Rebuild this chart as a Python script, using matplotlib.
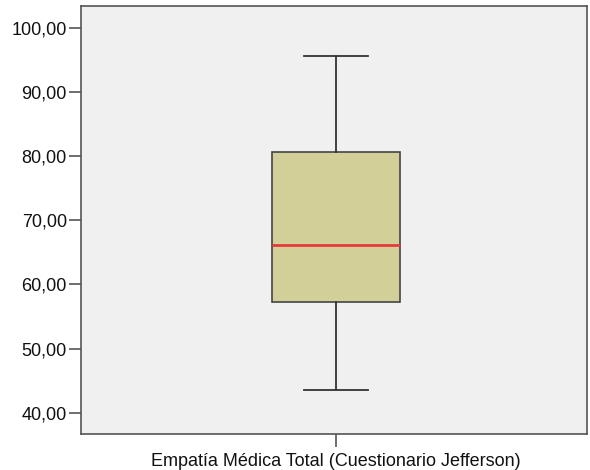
import matplotlib
matplotlib.use("Agg")
import matplotlib.pyplot as plt
from matplotlib.ticker import FuncFormatter

# Summary values
label = "Empatía Médica Total (Cuestionario Jefferson)"
whisker_low = 43.6
q1 = 57.2
median = 66.1
q3 = 80.7
whisker_high = 95.6
yticks = [40, 50, 60, 70, 80, 90, 100]

plt.rcParams['font.family'] = ['Liberation Sans', 'DejaVu Sans']

fig = plt.figure(figsize=(5.9, 4.7), dpi=100)
ax = fig.add_axes([0.137, 0.0766, 0.858, 0.911])
ax.set_facecolor('#F0F0F0')

stats = [dict(label=label, whislo=whisker_low, q1=q1, med=median,
              q3=q3, whishi=whisker_high, fliers=[])]
ax.bxp(stats, positions=[1], widths=0.253, patch_artist=True,
       showfliers=False,
       boxprops=dict(facecolor='#D3CF98', edgecolor='#444444', linewidth=1.2),
       medianprops=dict(color='#E8393C', linewidth=2),
       whiskerprops=dict(color='#333333', linewidth=1.3),
       capprops=dict(color='#333333', linewidth=1.3),
       capwidths=0.126)

ax.set_xlim(0.496, 1.496)
ax.set_ylim(36.7, 103.4)
ax.set_yticks(yticks)
ax.yaxis.set_major_formatter(FuncFormatter(lambda v, p: f"{v:.2f}".replace('.', ',')))

for s in ax.spines.values():
    s.set_color('#555555')
    s.set_linewidth(1.2)

ax.tick_params(axis='both', length=9, width=1.2, color='#555555',
               labelsize=13, labelcolor='#111111')
ax.tick_params(axis='y', pad=1)
ax.tick_params(axis='x', pad=5)

fig.savefig('out.png', dpi=100)
